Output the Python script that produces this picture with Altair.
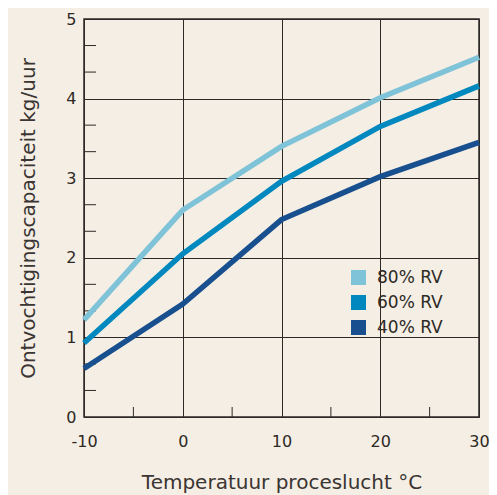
import altair as alt
import pandas as pd

temps = [-10, 0, 10, 20, 30]
rv80 = [1.22, 2.60, 3.40, 4.01, 4.52]
rv60 = [0.93, 2.05, 2.96, 3.65, 4.16]
rv40 = [0.61, 1.42, 2.48, 3.02, 3.45]
series_names = ["80% RV", "60% RV", "40% RV"]
series_colors = ["#7fc3d8", "#0088bf", "#184f8e"]
x_ticks = [-10, 0, 10, 20, 30]
x_minor = [-5, 5, 15, 25]
y_ticks = [0, 1, 2, 3, 4, 5]
y_minor = [1/3, 2/3, 4/3, 5/3, 7/3, 8/3, 10/3, 11/3, 13/3, 14/3]

rows = []
for name, vals in zip(series_names, [rv80, rv60, rv40]):
    for t, v in zip(temps, vals):
        rows.append({"t": t, "v": v, "s": name})
df = pd.DataFrame(rows)

FONT = "DejaVu Sans"
INK = "#2d2926"
W, H = 395, 398

xs = alt.Scale(domain=[-10, 30], nice=False, zero=False)
ys = alt.Scale(domain=[0, 5], nice=False)

lines = alt.Chart(df).mark_line(strokeWidth=5.5, strokeJoin="miter").encode(
    x=alt.X("t:Q", scale=xs, axis=alt.Axis(values=x_ticks, title="Temperatuur proceslucht °C",
                                           labelExpr="'' + datum.value", labelFlush=False,
                                           grid=True, gridColor=INK, gridWidth=1, domain=False, ticks=False,
                                           labelPadding=16, labelFontSize=16, titleFontSize=20,
                                           titlePadding=23, titleFontWeight="normal")),
    y=alt.Y("v:Q", scale=ys, axis=alt.Axis(values=y_ticks, title="Ontvochtigingscapaciteit kg/uur",
                                           labelExpr="'' + datum.value", labelFlush=False,
                                           grid=True, gridColor=INK, gridWidth=1, domain=False, ticks=False,
                                           labelPadding=8, labelFontSize=16, titleFontSize=20,
                                           titlePadding=27, titleFontWeight="normal")),
    color=alt.Color("s:N", scale=alt.Scale(domain=series_names, range=series_colors), legend=None),
)

leg_df = pd.DataFrame({"key": series_names, "t": [temps[0]] * 3, "v": [0] * 3})
legend_layer = alt.Chart(leg_df).mark_square(size=0, opacity=1, filled=True).encode(
    x=alt.X("t:Q", scale=xs),
    y=alt.Y("v:Q", scale=ys),
    fill=alt.Fill("key:N", scale=alt.Scale(domain=series_names, range=series_colors),
                  legend=alt.Legend(title=None, orient="none", legendX=266, legendY=250,
                                    symbolType="square", symbolSize=225, symbolStrokeWidth=0,
                                    symbolOpacity=1, labelFontSize=17, labelOffset=10,
                                    rowPadding=7, labelColor=INK, labelFont=FONT)),
)

xminor_df = pd.DataFrame({"t": x_minor})
xminor = alt.Chart(xminor_df).mark_rule(color=INK, strokeWidth=1).encode(
    x=alt.X("t:Q", scale=xs), y=alt.value(H), y2=alt.value(H - 10)
)
yminor_df = pd.DataFrame({"v": y_minor})
yminor = alt.Chart(yminor_df).mark_rule(color=INK, strokeWidth=1).encode(
    y=alt.Y("v:Q", scale=ys), x=alt.value(0), x2=alt.value(12)
)

chart = alt.layer(xminor, yminor, lines, legend_layer).resolve_scale(
    color="independent", fill="independent"
).properties(
    width=W, height=H,
    background="#f5eee4",
    padding={"left": 76, "top": 11, "right": 10, "bottom": 78},
    autosize=alt.AutoSizeParams(type="none"),
).configure_view(stroke=INK, strokeWidth=1.5).configure_axis(
    labelFont=FONT, titleFont=FONT, labelColor=INK, titleColor="#3a3532"
)

chart.save("out.html", embed_options={"renderer": "svg", "actions": False})
